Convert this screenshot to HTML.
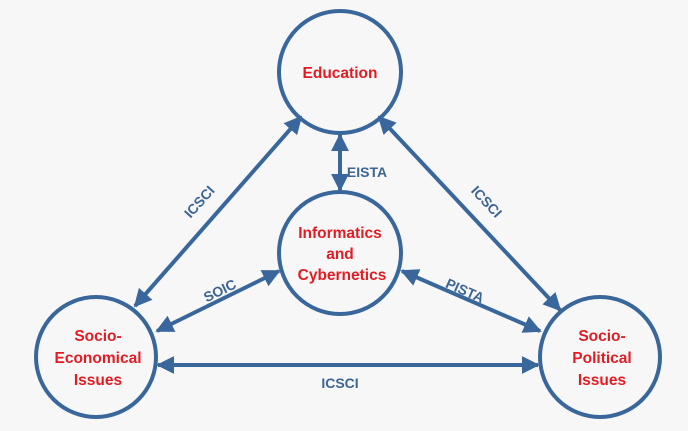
<!DOCTYPE html>
<html><head><style>body{margin:0;background:#f7f7f7}svg{display:block}</style></head><body>
<svg width="688" height="431" viewBox="0 0 688 431" xmlns="http://www.w3.org/2000/svg">
<defs><marker id="a" viewBox="0 0 10 10" refX="9" refY="5" markerWidth="4.5" markerHeight="4.5" orient="auto-start-reverse"><path d="M0,0L10,5L0,10z" fill="#3a679b"/></marker></defs>
<rect width="688" height="431" fill="#f7f7f7"/>
<g stroke="#3a679b" stroke-width="4" fill="none">
<circle cx="340" cy="72" r="61"/>
<circle cx="340" cy="253" r="61"/>
<circle cx="96" cy="357" r="60"/>
<circle cx="600" cy="357" r="60"/>
<g marker-start="url(#a)" marker-end="url(#a)">
<line x1="301" y1="117" x2="135" y2="306"/>
<line x1="379" y1="117" x2="560" y2="310"/>
<line x1="340" y1="135" x2="340" y2="190"/>
<line x1="279" y1="271" x2="157" y2="331"/>
<line x1="402" y1="271" x2="540" y2="331"/>
<line x1="158" y1="365" x2="538" y2="365"/>
</g></g>
<g font-family="Liberation Sans, sans-serif" font-weight="bold" fill="#e31b23" font-size="15.5" text-anchor="middle">
<text x="340" y="78">Education</text>
<text x="340" y="238">Informatics</text>
<text x="340" y="259">and</text>
<text x="342" y="280">Cybernetics</text>
<text x="98" y="341">Socio-</text>
<text x="98" y="363">Economical</text>
<text x="98" y="385">Issues</text>
<text x="602" y="341">Socio-</text>
<text x="602" y="363">Political</text>
<text x="602" y="385">Issues</text>
</g>
<g font-family="Liberation Sans, sans-serif" font-weight="bold" fill="#3d6594" font-size="14" text-anchor="middle">
<text x="367" y="177">EISTA</text>
<text x="340" y="388">ICSCI</text>
<text transform="translate(203,205) rotate(-48)">ICSCI</text>
<text transform="translate(483,205) rotate(47)">ICSCI</text>
<text transform="translate(222,295) rotate(-26)">SOIC</text>
<text transform="translate(463,295) rotate(24)">PISTA</text>
</g>
</svg>
</body></html>
